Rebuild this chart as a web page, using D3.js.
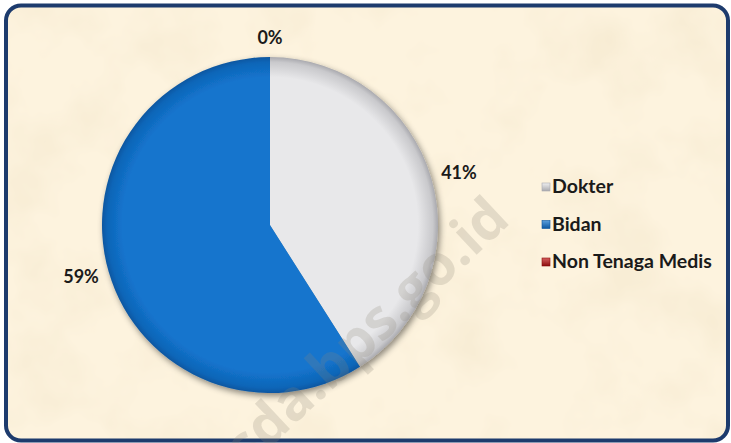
<!DOCTYPE html>
<html>
<head>
<meta charset="utf-8">
<script src="https://cdn.jsdelivr.net/npm/d3@7"></script>
<style>
  body { margin: 0; background: #ffffff; }
  svg { display: block; }
</style>
</head>
<body>
<svg id="drawing_region"></svg>
<script>
// data
const categories = ["Dokter", "Bidan", "Non Tenaga Medis"];
const shares = [41, 59, 0];
const colors = ["#e8e8ea", "#1374cd", "#c41a1a"];
const edgeColors = ["#a9a9ae", "#0a56a0", "#8a0c0c"];

const config = {
    width: 731,
    height: 443,
    cx: 270,
    cy: 225,
    radius: 168
};

const svg = d3.select('#drawing_region')
    .attr('width', config.width)
    .attr('height', config.height);

const defs = svg.append('defs');

// parchment texture
const paper = defs.append('filter').attr('id', 'paper')
    .attr('x', 0).attr('y', 0).attr('width', 1).attr('height', 1);
paper.append('feTurbulence')
    .attr('type', 'fractalNoise')
    .attr('baseFrequency', 0.012)
    .attr('numOctaves', 4)
    .attr('seed', 7);
paper.append('feColorMatrix')
    .attr('values', '0 0 0 0 0.88  0 0 0 0 0.78  0 0 0 0 0.58  1.2 0 0 0 -0.56');

defs.append('clipPath').attr('id', 'frame_clip')
    .append('rect')
    .attr('x', 6).attr('y', 5.5)
    .attr('width', 722).attr('height', 435)
    .attr('rx', 15);

const shadow = defs.append('filter').attr('id', 'shadow')
    .attr('x', '-20%').attr('y', '-20%').attr('width', '140%').attr('height', '140%');
shadow.append('feDropShadow')
    .attr('dx', 2).attr('dy', 3)
    .attr('stdDeviation', 3)
    .attr('flood-color', '#000')
    .attr('flood-opacity', 0.45);

categories.forEach((c, i) => {
    const g = defs.append('radialGradient')
        .attr('id', 'grad' + i)
        .attr('gradientUnits', 'userSpaceOnUse')
        .attr('cx', 0).attr('cy', 0)
        .attr('r', config.radius);
    g.append('stop').attr('offset', '0%').attr('stop-color', colors[i]);
    g.append('stop').attr('offset', '88%').attr('stop-color', colors[i]);
    g.append('stop').attr('offset', '97%').attr('stop-color', d3.interpolateRgb(colors[i], edgeColors[i])(0.5));
    g.append('stop').attr('offset', '100%').attr('stop-color', edgeColors[i]);

    const lg = defs.append('linearGradient')
        .attr('id', 'lgrad' + i)
        .attr('x1', 0).attr('y1', 0).attr('x2', 0).attr('y2', 1);
    lg.append('stop').attr('offset', '0%').attr('stop-color', d3.interpolateRgb(colors[i], '#fff')(0.3));
    lg.append('stop').attr('offset', '100%').attr('stop-color', edgeColors[i]);
});

// background + frame
svg.append('rect')
    .attr('x', 6).attr('y', 5.5)
    .attr('width', 722).attr('height', 435)
    .attr('rx', 15)
    .attr('fill', '#fdf3de');

svg.append('rect')
    .attr('x', 6).attr('y', 5.5)
    .attr('width', 722).attr('height', 435)
    .attr('clip-path', 'url(#frame_clip)')
    .attr('filter', 'url(#paper)');

svg.append('rect')
    .attr('x', 6).attr('y', 5.5)
    .attr('width', 722).attr('height', 435)
    .attr('rx', 15)
    .attr('fill', 'none')
    .attr('stroke', '#1d3b6d')
    .attr('stroke-width', 4);

// pie
const pie = d3.pie().sort(null).value(d => d.value);
const arcs = pie(categories.map((c, i) => ({ name: c, value: shares[i], index: i })));

const arc = d3.arc().innerRadius(0).outerRadius(config.radius);

const chart = svg.append('g')
    .attr('transform', `translate(${config.cx}, ${config.cy})`);

chart.append('g')
    .attr('filter', 'url(#shadow)')
    .selectAll('path')
    .data(arcs.filter(d => d.value > 0))
    .enter()
    .append('path')
    .attr('d', arc)
    .attr('fill', d => `url(#grad${d.data.index})`);

// data labels (outside end)
const fmt = d3.format('.0f');
const labelGap = 11;
chart.selectAll('text.label')
    .data(arcs)
    .enter()
    .append('text')
    .attr('class', 'label')
    .attr('font-family', 'Lato, "Open Sans", sans-serif')
    .attr('font-weight', 'bold')
    .attr('font-size', 18)
    .attr('fill', '#1a1a1a')
    .attr('text-anchor', 'middle')
    .each(function(d) {
        const a = (d.startAngle + d.endAngle) / 2;
        const s = Math.sin(a), c = Math.cos(a);
        const r = config.radius + labelGap;
        const t = d3.select(this).text(fmt(d.data.value) + '%');
        const w = this.getComputedTextLength();
        const h = 16;
        const x = r * s + (w / 2) * s;
        const y = -r * c - (h / 2) * c;
        t.attr('x', x).attr('y', y + 6);
    });

// legend
const legendScale = d3.scalePoint()
    .domain(categories)
    .range([193, 268]);

const legend = svg.append('g')
    .selectAll('g')
    .data(categories)
    .enter()
    .append('g')
    .attr('transform', d => `translate(542, ${legendScale(d)})`);

legend.append('rect')
    .attr('x', 0).attr('y', -10)
    .attr('width', 8).attr('height', 8)
    .attr('fill', (d, i) => `url(#lgrad${i})`)
    .attr('stroke', (d, i) => edgeColors[i])
    .attr('stroke-width', 0.6);

legend.append('text')
    .attr('x', 10)
    .attr('y', 0)
    .attr('font-family', 'Lato, "Open Sans", sans-serif')
    .attr('font-weight', 'bold')
    .attr('font-size', 19.5)
    .attr('fill', '#1a1a1a')
    .text(d => d);

// watermark
svg.append('text')
    .attr('transform', 'translate(512, 222) rotate(-43)')
    .attr('text-anchor', 'end')
    .attr('font-family', '"Open Sans", sans-serif')
    .attr('font-weight', 'bold')
    .attr('font-size', 56)
    .attr('fill', '#8c8678')
    .attr('opacity', 0.22)
    .text('sda.bps.go.id');
</script>
</body>
</html>
